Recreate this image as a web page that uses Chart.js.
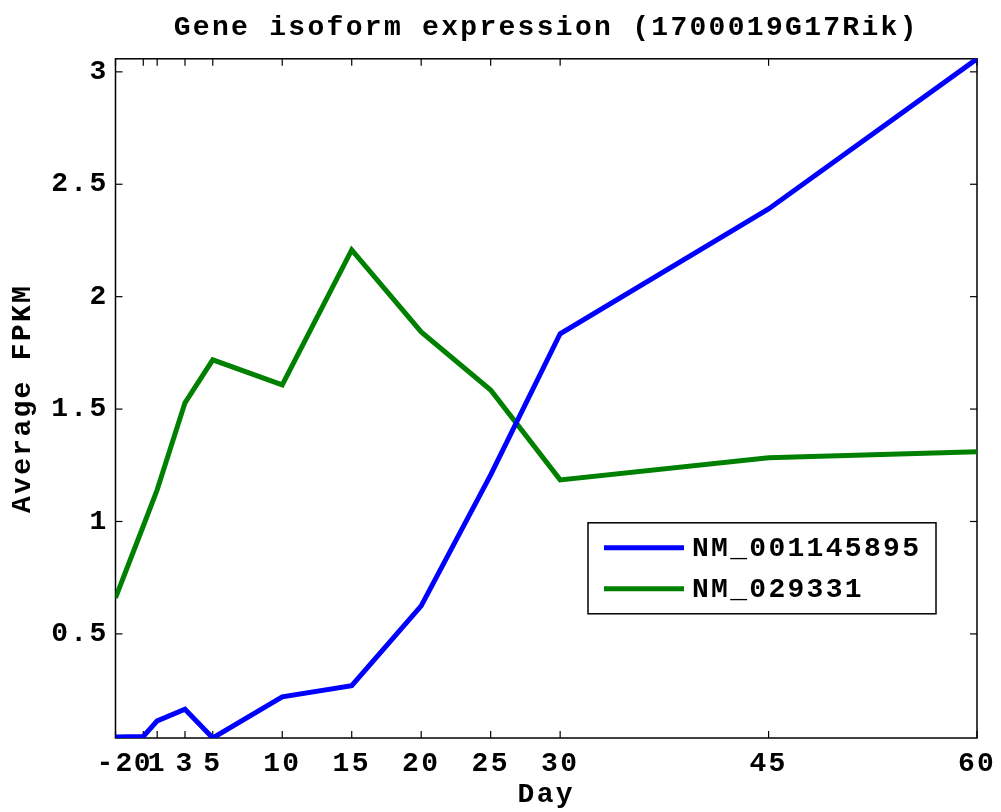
<!DOCTYPE html>
<html><head><meta charset="utf-8">
<script src="https://cdn.jsdelivr.net/npm/chart.js@4.4.0/dist/chart.umd.min.js"></script>
<style>html,body{margin:0;padding:0;background:#fff;}</style>
</head><body>
<canvas id="c" width="1001" height="812"></canvas>
<script>
const days = [-2, 0, 1, 3, 5, 10, 15, 20, 25, 30, 45, 60];
const nm001145895 = [0.041, 0.044, 0.113, 0.165, 0.037, 0.22, 0.27, 0.625, 1.207, 1.835, 2.39, 3.058];
const nm029331 = [0.66, 0.98, 1.141, 1.528, 1.719, 1.608, 2.208, 1.843, 1.585, 1.185, 1.283, 1.31];
const seriesNames = ['NM_001145895', 'NM_029331'];
const xTicks = [-2, 0, 1, 3, 5, 10, 15, 20, 25, 30, 45, 60];
const xTickLabels = ['-2', '0', '1', '3', '5', '10', '15', '20', '25', '30', '45', '60'];
const yTicks = [0.5, 1, 1.5, 2, 2.5, 3];
const yTickLabels = ['0.5', '1', '1.5', '2', '2.5', '3'];

const FAMILY = "'Liberation Mono', 'DejaVu Sans Mono', monospace";
const FONT = {family: FAMILY, size: 28, weight: 'bold', lineHeight: 1.1};
const SPACING = '2.3px';

const spacingPlugin = {
  id: 'spacing',
  beforeUpdate(chart) { chart.ctx.letterSpacing = SPACING; },
  beforeDraw(chart) { chart.ctx.letterSpacing = SPACING; }
};

const framePlugin = {
  id: 'frame',
  beforeDatasetsDraw(chart) {
    const {ctx, chartArea: a, scales: {x, y}} = chart;
    ctx.save();
    ctx.letterSpacing = '0px';
    ctx.strokeStyle = '#000';
    ctx.lineWidth = 1.2;
    const L = 7;
    const line = (x1, y1, x2, y2) => { ctx.beginPath(); ctx.moveTo(x1, y1); ctx.lineTo(x2, y2); ctx.stroke(); };
    x.ticks.forEach(t => {
      const px = x.getPixelForValue(t.value);
      line(px, a.bottom, px, a.bottom - L);
      line(px, a.top, px, a.top + L);
    });
    y.ticks.forEach(t => {
      const py = y.getPixelForValue(t.value);
      line(a.left, py, a.left + L, py);
      line(a.right, py, a.right - L, py);
    });
    ctx.lineWidth = 1.5;
    ctx.strokeRect(a.left, a.top, a.width, a.height);
    ctx.restore();
  }
};

const legendPlugin = {
  id: 'boxLegend',
  afterDraw(chart) {
    const {ctx, chartArea: a} = chart;
    ctx.save();
    const bx = a.right - 389, by = a.top + 464, bw = 348, bh = 91;
    ctx.fillStyle = '#fff';
    ctx.fillRect(bx, by, bw, bh);
    ctx.strokeStyle = '#000';
    ctx.lineWidth = 1.5;
    ctx.strokeRect(bx, by, bw, bh);
    chart.data.datasets.forEach((ds, i) => {
      const yy = by + 25 + i * 41;
      ctx.strokeStyle = ds.borderColor;
      ctx.lineWidth = 5;
      ctx.beginPath();
      ctx.moveTo(bx + 16, yy);
      ctx.lineTo(bx + 96, yy);
      ctx.stroke();
      ctx.fillStyle = '#000';
      ctx.font = 'bold 28px ' + FAMILY;
      ctx.letterSpacing = SPACING;
      ctx.textAlign = 'left';
      ctx.textBaseline = 'middle';
      ctx.fillText(ds.label, bx + 104, yy + 1);
    });
    ctx.restore();
  }
};

const toPts = arr => days.map((d, i) => ({x: d, y: arr[i]}));

new Chart(document.getElementById('c'), {
  type: 'line',
  data: {
    datasets: [
      {label: seriesNames[0], data: toPts(nm001145895), borderColor: '#0000ff', borderWidth: 5, pointRadius: 0, tension: 0, fill: false},
      {label: seriesNames[1], data: toPts(nm029331), borderColor: '#008000', borderWidth: 5, pointRadius: 0, tension: 0, fill: false}
    ]
  },
  options: {
    responsive: false,
    animation: false,
    layout: {padding: {left: 0, right: 24, top: 0, bottom: 0}},
    plugins: {
      legend: {display: false},
      tooltip: {enabled: false},
      title: {
        display: true,
        text: 'Gene isoform expression (1700019G17Rik)',
        font: FONT,
        color: '#000',
        fullSize: false,
        padding: {top: 13, bottom: 15}
      }
    },
    scales: {
      x: {
        type: 'linear',
        min: -2, max: 60,
        afterBuildTicks: s => { s.ticks = xTicks.map(v => ({value: v})); },
        afterFit: s => { s.height = 74; s.paddingLeft = 0; s.paddingRight = 0; },
        ticks: {
          autoSkip: false, maxRotation: 0, minRotation: 0,
          font: FONT, color: '#000', padding: 11,
          callback: v => xTickLabels[xTicks.indexOf(v)]
        },
        grid: {display: false, drawTicks: false},
        border: {display: false},
        title: {display: true, text: 'Day', font: FONT, color: '#000', padding: {top: 1, bottom: 2}}
      },
      y: {
        type: 'linear',
        min: 0.037, max: 3.058,
        afterBuildTicks: s => { s.ticks = yTicks.map(v => ({value: v})); },
        afterFit: s => { s.width = 115.5; s.paddingTop = 0; s.paddingBottom = 0; },
        ticks: {
          autoSkip: false,
          font: FONT, color: '#000', padding: 7,
          callback: v => yTickLabels[yTicks.indexOf(v)]
        },
        grid: {display: false, drawTicks: false},
        border: {display: false},
        title: {display: true, text: 'Average FPKM', font: FONT, color: '#000', padding: {top: 8, bottom: 0}}
      }
    }
  },
  plugins: [spacingPlugin, framePlugin, legendPlugin]
});
</script>
</body></html>
